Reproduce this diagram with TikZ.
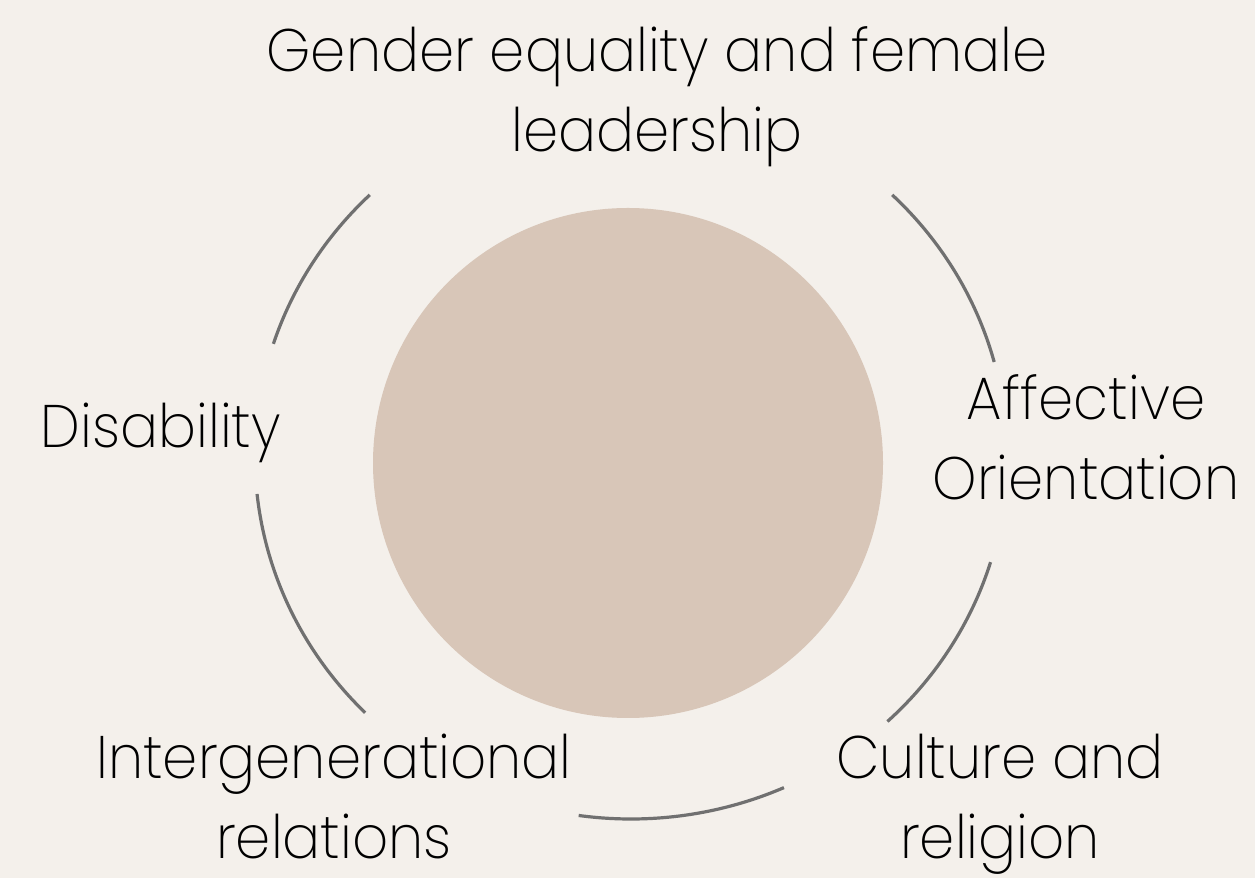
\documentclass[tikz,border=0pt]{standalone}
\usepackage{fontspec}
\usetikzlibrary{calc}
\IfFontExistsTF{Poppins ExtraLight}{\setmainfont{Poppins ExtraLight}[FakeStretch=0.94]}{%
  \IfFontExistsTF{Poppins Light}{\setmainfont{Poppins Light}[FakeStretch=0.94]}{\setmainfont{Lato}}}
\definecolor{bgc}{HTML}{F4F0EB}
\definecolor{discc}{HTML}{D8C6B8}
\definecolor{arcc}{HTML}{707070}
\begin{document}
\begin{tikzpicture}[x=1pt,y=1pt,
  lab/.style={align=center,anchor=base,inner sep=0pt,font=\fontsize{60}{80}\selectfont},
  ring/.style={draw=arcc,line width=3.2pt}]
\fill[bgc] (0,0) rectangle (1255,878);
\useasboundingbox (0,0) rectangle (1255,878);
\node[circle,fill=discc,minimum size=510pt,inner sep=0pt] (disc) at (628,415) {};
\coordinate (c) at (631,422);
\draw[ring] ($(c)+(134:376 and 363)$) arc[start angle=134,end angle=162,x radius=376,y radius=363];
\draw[ring] ($(c)+(15:376 and 363)$) arc[start angle=15,end angle=46,x radius=376,y radius=363];
\draw[ring] ($(c)+(186:376 and 363)$) arc[start angle=186,end angle=225,x radius=376,y radius=363];
\draw[ring] ($(c)+(262:376 and 363)$) arc[start angle=262,end angle=294,x radius=376,y radius=363];
\draw[ring] ($(c)+(313:376 and 363)$) arc[start angle=313,end angle=343,x radius=376,y radius=363];
\node[lab] (gender) at (657,726) {Gender equality and female\\leadership};
\node[lab] (disab) at (161,430) {Disability};
\node[lab] (affect) at (1086,378) {Affective\\Orientation};
\node[lab] (inter) at (334,20) {Intergenerational\\relations};
\node[lab] (cult) at (1000,20) {Culture and\\religion};
\end{tikzpicture}
\end{document}
